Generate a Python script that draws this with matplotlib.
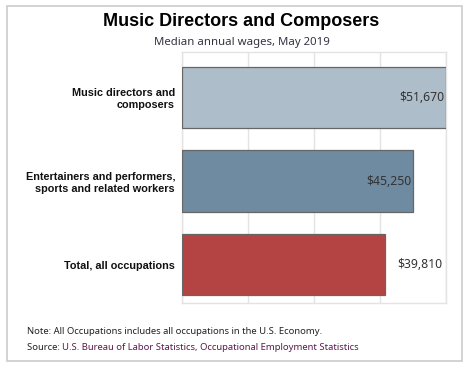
import matplotlib
matplotlib.use("Agg")
import matplotlib.pyplot as plt
from matplotlib.patches import Rectangle

categories = ["Music directors and\ncomposers",
              "Entertainers and performers,\nsports and related workers",
              "Total, all occupations"]
values = [51670, 45250, 39810]
value_labels = ["$51,670", "$45,250", "$39,810"]
label_inside = [True, True, False]
colors = ["#adbdc9", "#6f8ba1", "#b44444"]

W, H = 468, 365
fig = plt.figure(figsize=(W / 100, H / 100), dpi=100)
fig.patch.set_facecolor("white")

# outer frame
fig.patches.append(Rectangle((7 / W, 1 - 361 / H), 455 / W, 355 / H,
                             transform=fig.transFigure, fill=False,
                             edgecolor="#cccccc", linewidth=1.2))

left, right, top, bottom = 182, 446, 52, 303
ax = fig.add_axes([left / W, 1 - bottom / H, (right - left) / W, (bottom - top) / H])

xmax = max(values)
y = list(range(len(categories)))
bars = ax.barh(y, values, height=0.73, color=colors, edgecolor="#666666",
               linewidth=0.9, zorder=3)
ax.set_ylim(len(categories) - 0.542, -0.542)
ax.set_xlim(0, xmax)
ax.set_xticks([xmax * i / 4 for i in range(5)])
ax.set_xticklabels([])
ax.tick_params(axis="both", length=0)
ax.grid(axis="x", color="#e3e3e3", linewidth=1, zorder=0)
for s in ax.spines.values():
    s.set_color("#e3e3e3")
    s.set_linewidth(1)
ax.set_yticks(y)
ax.set_yticklabels(categories, fontsize=7.8, fontweight="bold",
                   family="Liberation Sans", color="#111111")
ax.tick_params(axis="y", pad=5)

for i, (v, lab, inside) in enumerate(zip(values, value_labels, label_inside)):
    if inside:
        ax.text(v - xmax * 0.008, i, lab, ha="right", va="center",
                fontsize=8.8, color="#333333", family="Noto Sans", zorder=4)
    else:
        ax.text(v + xmax * 0.045, i, lab, ha="left", va="center",
                fontsize=8.8, color="#333333", family="Noto Sans", zorder=4)

fig.text(241 / W, 1 - 22 / H, "Music Directors and Composers", ha="center",
         va="center", fontsize=13, fontweight="bold", family="Liberation Sans",
         color="#000000")
fig.text(242 / W, 1 - 43 / H, "Median annual wages, May 2019", ha="center",
         va="center", fontsize=8.2, family="Noto Sans", color="#333344")

fig.text(27 / W, 1 - 332 / H,
         "Note: All Occupations includes all occupations in the U.S. Economy.",
         ha="left", va="center", fontsize=6.8, family="Noto Sans", color="#222222")
t = fig.text(27 / W, 1 - 348 / H, "Source: ", ha="left", va="center",
             fontsize=6.8, family="Noto Sans", color="#222222")
fig.canvas.draw()
bb = t.get_window_extent()
fig.text(bb.x1 / W, 1 - 348 / H,
         "U.S. Bureau of Labor Statistics, Occupational Employment Statistics",
         ha="left", va="center", fontsize=6.8, family="Noto Sans", color="#5a1a4a")

fig.savefig("out.png", dpi=100)
